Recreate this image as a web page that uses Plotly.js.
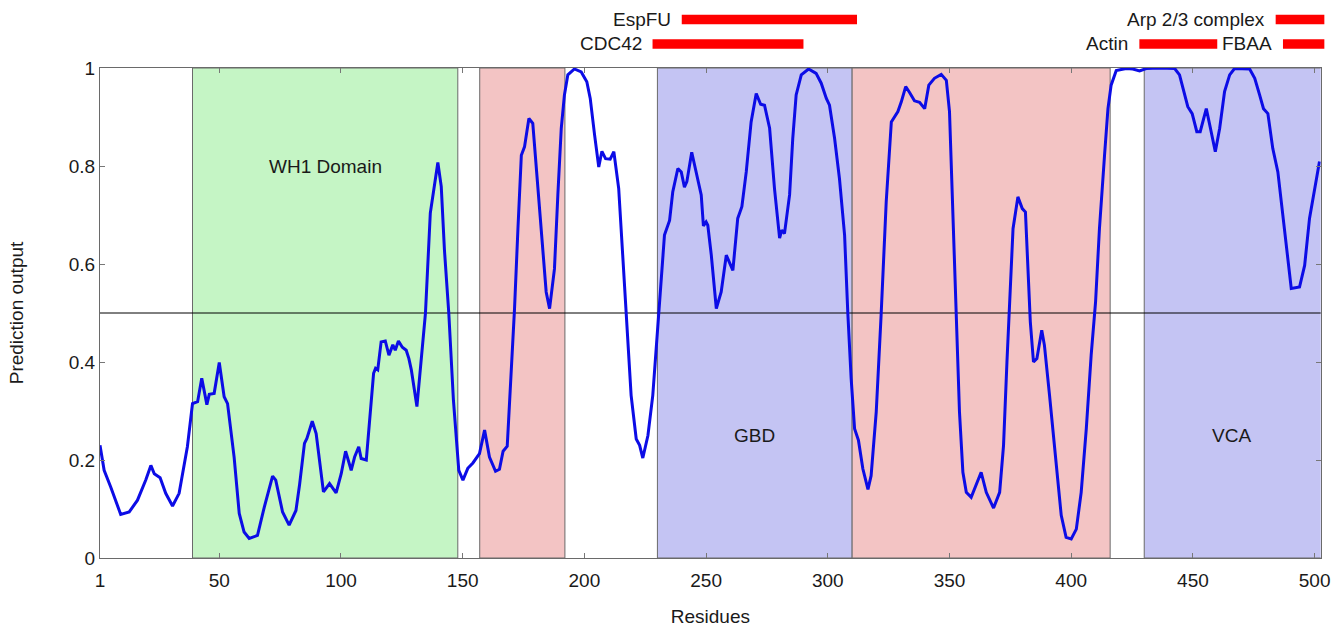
<!DOCTYPE html>
<html>
<head>
<meta charset="utf-8">
<script src="https://cdn.plot.ly/plotly-3.0.1.min.js"></script>
<style>html,body{margin:0;padding:0;background:#fff;}#chart{width:1342px;height:630px;}</style>
</head>
<body>
<div id="chart"></div>
<script>
// ---- data ----
const residues = [1,2.7,5.4,7.5,9.5,13.0,16.4,19.8,21.9,23.3,25.7,28.0,30.8,33.5,35.8,36.9,39.0,41.1,42.8,44.9,45.9,47.9,50.0,52.0,53.4,56.1,58.2,60.2,62.3,65.7,68.5,71.9,73.2,76.0,78.7,81.5,83.0,85.0,86.0,88.2,89.8,91.2,92.8,95.3,98.0,100.1,101.9,104.2,105.6,107.3,108.3,110.4,111.7,113.4,114.2,115.1,116.5,118.2,119.7,121.3,122.3,123.6,125.2,126.8,127.9,128.9,131.2,133.0,134.7,136.7,138.4,139.8,141.2,142.5,144.3,146.2,148.4,150.1,152.1,154.2,156.9,159.0,161.0,163.5,165.1,166.6,168.3,169.9,171.3,172.7,174.1,175.4,177.2,178.8,180.9,182.9,184.3,185.7,187.7,189.1,190.5,191.8,193.2,195.9,198.7,201.0,202.4,204.2,205.9,207.2,208.7,210.6,212.1,214.1,215.8,217.2,219.2,221.3,222.7,224.0,226.1,228.1,230.6,232.9,235.0,236.3,238.4,239.8,241.1,242.1,244.1,245.9,248.0,248.9,250.0,250.7,252.1,254.2,256.2,258.3,259.6,261.0,263.0,264.7,266.5,268.5,270.6,272.4,274.0,276.1,278.1,280.2,281.1,282.2,284.3,285.6,287.0,289.1,292.1,295.2,297.3,299.4,300.7,302.8,304.8,306.9,308.2,309.6,311.0,312.6,314.4,316.5,317.8,319.9,321.9,324.0,326.1,328.8,330.2,332.0,333.6,335.6,337.7,339.8,341.5,343.8,346.6,348.7,350.0,351.1,352.1,353.0,354.1,355.5,356.9,358.9,360.9,363.0,365.1,368.1,370.6,372.2,373.6,374.7,376.1,378.1,379.9,381.2,382.2,383.2,384.5,385.9,387.9,389.0,391.1,393.8,395.9,397.9,400.0,402.1,404.1,406.2,408.2,410.0,411.6,413.7,415.1,416.4,418.5,422.6,425.3,428.1,430.8,436.3,442.5,444.5,446.2,447.9,449.7,451.6,453.0,455.5,457.2,459.2,461.0,463.0,465.1,467.1,473.3,475.4,477.4,479.0,480.8,482.8,484.9,486.9,489.0,490.4,493.8,495.9,497.9,502.0];
const prediction = [0.23,0.179,0.145,0.115,0.089,0.094,0.118,0.159,0.189,0.172,0.164,0.132,0.106,0.132,0.200,0.227,0.315,0.319,0.367,0.313,0.334,0.336,0.399,0.329,0.315,0.206,0.091,0.053,0.040,0.046,0.104,0.167,0.159,0.094,0.067,0.097,0.15,0.234,0.244,0.279,0.254,0.200,0.135,0.152,0.133,0.172,0.218,0.179,0.206,0.227,0.203,0.200,0.275,0.377,0.387,0.384,0.441,0.443,0.414,0.435,0.424,0.443,0.430,0.424,0.407,0.384,0.309,0.404,0.499,0.704,0.758,0.807,0.758,0.629,0.499,0.322,0.179,0.159,0.183,0.194,0.213,0.261,0.206,0.177,0.181,0.218,0.228,0.366,0.509,0.672,0.822,0.839,0.897,0.887,0.754,0.618,0.543,0.509,0.590,0.741,0.877,0.945,0.986,0.998,0.992,0.972,0.938,0.863,0.798,0.830,0.815,0.814,0.829,0.754,0.618,0.502,0.332,0.243,0.230,0.204,0.250,0.332,0.495,0.659,0.689,0.747,0.795,0.788,0.757,0.768,0.828,0.788,0.741,0.678,0.686,0.679,0.620,0.509,0.543,0.618,0.604,0.587,0.693,0.717,0.788,0.890,0.948,0.926,0.924,0.877,0.754,0.653,0.669,0.662,0.741,0.856,0.945,0.986,0.998,0.989,0.969,0.938,0.924,0.856,0.774,0.659,0.502,0.366,0.264,0.240,0.182,0.140,0.168,0.298,0.495,0.727,0.890,0.911,0.931,0.962,0.950,0.933,0.930,0.917,0.965,0.979,0.987,0.975,0.911,0.741,0.570,0.434,0.298,0.175,0.134,0.124,0.148,0.175,0.134,0.102,0.134,0.230,0.400,0.536,0.672,0.737,0.713,0.706,0.604,0.482,0.400,0.407,0.465,0.434,0.332,0.196,0.087,0.042,0.039,0.059,0.134,0.264,0.414,0.522,0.672,0.822,0.917,0.965,0.995,0.999,0.998,0.994,0.999,1.000,0.999,0.986,0.952,0.921,0.907,0.870,0.870,0.917,0.877,0.829,0.877,0.952,0.986,0.999,0.998,0.979,0.945,0.917,0.907,0.836,0.788,0.700,0.604,0.550,0.553,0.597,0.693,0.809];

const regionStart = [39, 157, 230, 310, 430];
const regionEnd   = [148, 192, 310, 416, 505];
const regionLabel = ['WH1 Domain', '', 'GBD', '', 'VCA'];
const regionKind  = ['wh1', 'pink', 'blue', 'pink', 'blue'];

const bindingName  = ['EspFU', 'CDC42', 'Arp 2/3 complex', 'Actin', 'FBAA'];
const bindingStart = [240, 228, 484, 428, 487];
const bindingEnd   = [312, 290, 504, 460, 504];
const bindingRow   = [1, 2, 1, 2, 2];

const xTickVals = [1, 50, 100, 150, 200, 250, 300, 350, 400, 450, 500];
const yTickVals = [0, 0.2, 0.4, 0.6, 0.8, 1];
const threshold = 0.5;
const sequenceLength = 505;

// ---- styles ----
const FONT = 'Liberation Sans, Arial, Helvetica, sans-serif';
const fillFor = {wh1: '#c5f5c5', pink: '#f3c4c4', blue: '#c4c4f3'};
const rowY = {1: 1.099, 2: 1.049};

const shapes = [];
const annotations = [];
for (let i = 0; i < regionStart.length; i++) {
  shapes.push({type: 'rect', xref: 'x', yref: 'y', x0: regionStart[i], x1: regionEnd[i], y0: 0, y1: 1,
    fillcolor: fillFor[regionKind[i]], line: {color: '#6a6a6a', width: 1}, layer: 'below'});
  if (regionLabel[i]) {
    annotations.push({xref: 'x', yref: 'y', x: (regionStart[i] + Math.min(regionEnd[i], 502)) / 2,
      y: regionKind[i] === 'wh1' ? 0.80 : 0.25, text: regionLabel[i], showarrow: false,
      font: {family: FONT, size: 19, color: '#1a1a1a'}});
  }
}
shapes.push({type: 'line', xref: 'x', yref: 'y', x0: xTickVals[0], x1: sequenceLength, y0: threshold, y1: threshold,
  line: {color: '#000000', width: 1}, layer: 'below'});
for (let i = 0; i < bindingName.length; i++) {
  const y = rowY[bindingRow[i]];
  shapes.push({type: 'rect', xref: 'x2', yref: 'paper', x0: bindingStart[i], x1: bindingEnd[i],
    y0: y - 0.0095, y1: y + 0.0095, fillcolor: '#ff0000', line: {width: 0}, layer: 'above'});
  annotations.push({xref: 'x2', yref: 'paper', x: bindingStart[i], y: y, xanchor: 'right', yanchor: 'middle',
    xshift: -9, text: bindingName[i], showarrow: false, font: {family: FONT, size: 19, color: '#1a1a1a'}});
}

const trace = {x: residues, y: prediction, type: 'scatter', mode: 'lines',
  line: {color: '#0c0ce6', width: 3}, hoverinfo: 'skip', showlegend: false};

const layout = {
  width: 1342, height: 630,
  margin: {l: 100, r: 10, t: 68, b: 72},
  paper_bgcolor: '#ffffff', plot_bgcolor: 'rgba(0,0,0,0)',
  font: {family: FONT, size: 19, color: '#1a1a1a'},
  showlegend: false,
  xaxis: {domain: [0, 0.99083], range: [1, 502.5], type: 'linear', tickvals: xTickVals,
    ticks: 'inside', ticklen: 5, tickcolor: '#777', showline: true, linecolor: '#6a6a6a', linewidth: 1,
    mirror: 'ticks', showgrid: false, zeroline: false, ticklabelstandoff: 5,
    tickfont: {family: FONT, size: 19, color: '#1a1a1a'},
    title: {text: 'Residues', font: {family: FONT, size: 19, color: '#1a1a1a'}, standoff: 19}},
  xaxis2: {domain: [0, 1], anchor: 'y', type: 'linear', range: [1, 502.5], visible: false,
    scaleanchor: 'x', scaleratio: 1, constrain: 'range', constraintoward: 'left'},
  yaxis: {range: [0, 1], tickvals: yTickVals, ticks: 'inside', ticklen: 5, tickcolor: '#777',
    showline: true, linecolor: '#6a6a6a', linewidth: 1, mirror: 'ticks', showgrid: false, zeroline: false,
    tickfont: {family: FONT, size: 19, color: '#1a1a1a'},
    title: {text: 'Prediction output', font: {family: FONT, size: 19, color: '#1a1a1a'}, standoff: 40}},
  shapes: shapes,
  annotations: annotations
};

Plotly.newPlot('chart', [trace], layout, {staticPlot: true, displayModeBar: false});
</script>
</body>
</html>
